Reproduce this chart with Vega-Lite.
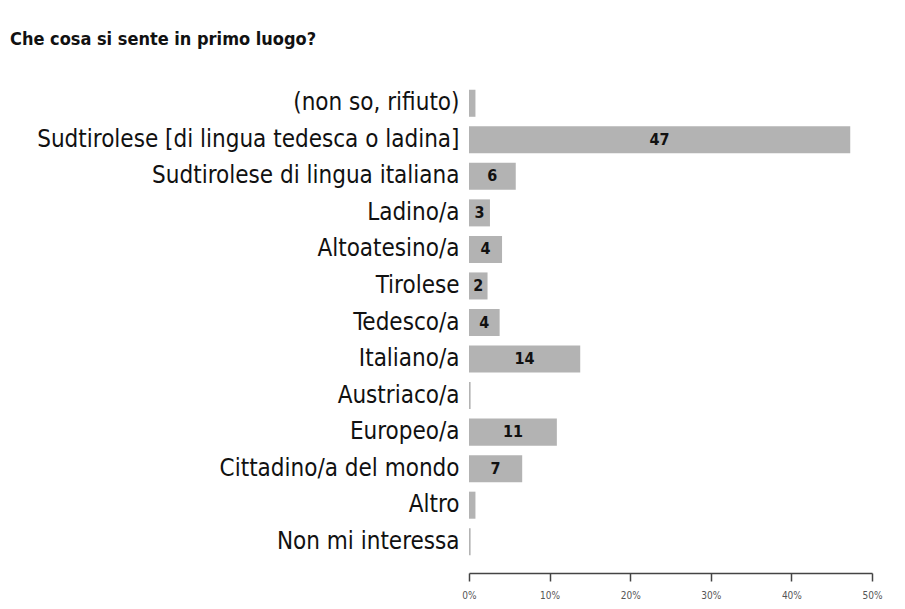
{
  "$schema": "https://vega.github.io/schema/vega-lite/v6.json",
  "width": 403,
  "height": 475,
  "autosize": {"type": "none"},
  "padding": {"left": 469, "top": 85, "right": 33, "bottom": 49},
  "background": "white",
  "title": {
    "text": "Che cosa si sente in primo luogo?",
    "anchor": "start",
    "frame": "group",
    "dx": -459,
    "offset": 36,
    "font": "DejaVu Sans Condensed, Liberation Sans, sans-serif",
    "fontSize": 18,
    "fontWeight": "bold",
    "color": "#111"
  },
  "data": {
    "values": [
      {"cat": "(non so, rifiuto)", "value": 0.8},
      {"cat": "Sudtirolese [di lingua tedesca o ladina]", "value": 47.3},
      {"cat": "Sudtirolese di lingua italiana", "value": 5.8},
      {"cat": "Ladino/a", "value": 2.6},
      {"cat": "Altoatesino/a", "value": 4.1},
      {"cat": "Tirolese", "value": 2.3},
      {"cat": "Tedesco/a", "value": 3.8},
      {"cat": "Italiano/a", "value": 13.8},
      {"cat": "Austriaco/a", "value": 0.2},
      {"cat": "Europeo/a", "value": 10.9},
      {"cat": "Cittadino/a del mondo", "value": 6.6},
      {"cat": "Altro", "value": 0.8},
      {"cat": "Non mi interessa", "value": 0.2}
    ]
  },
  "encoding": {
    "y": {
      "field": "cat",
      "type": "nominal",
      "sort": null,
      "scale": {"paddingInner": 0.26, "paddingOuter": 0.13},
      "axis": {
        "title": null,
        "domain": false,
        "ticks": false,
        "labelFont": "DejaVu Sans Condensed, Liberation Sans, sans-serif",
        "labelFontSize": 24,
        "labelColor": "#111",
        "labelPadding": 10,
        "labelLimit": 0
      }
    }
  },
  "layer": [
    {
      "mark": {"type": "bar", "color": "#b3b3b3"},
      "encoding": {
        "x": {
          "field": "value",
          "type": "quantitative",
          "scale": {"domain": [0, 50], "nice": false},
          "axis": {
            "title": null,
            "values": [0, 10, 20, 30, 40, 50],
            "labelExpr": "datum.value + '%'",
            "grid": false,
            "offset": 13,
            "domainColor": "#444",
            "domainWidth": 1.5,
            "tickColor": "#444",
            "tickWidth": 1.5,
            "tickSize": 8,
            "labelFont": "DejaVu Sans Condensed, Liberation Sans, sans-serif",
            "labelFontSize": 10,
            "labelColor": "#555",
            "labelPadding": 9,
            "labelFlush": false
          }
        }
      }
    },
    {
      "transform": [
        {"filter": "datum.value >= 1.5"},
        {"calculate": "datum.value / 2", "as": "mid"}
      ],
      "mark": {
        "type": "text",
        "font": "DejaVu Sans Condensed, Liberation Sans, sans-serif",
        "fontSize": 16,
        "fontWeight": "bold",
        "color": "#111",
        "align": "center",
        "baseline": "middle"
      },
      "encoding": {
        "x": {"field": "mid", "type": "quantitative"},
        "text": {"field": "value", "type": "quantitative", "format": ".0f"}
      }
    }
  ],
  "config": {"view": {"stroke": null}}
}
